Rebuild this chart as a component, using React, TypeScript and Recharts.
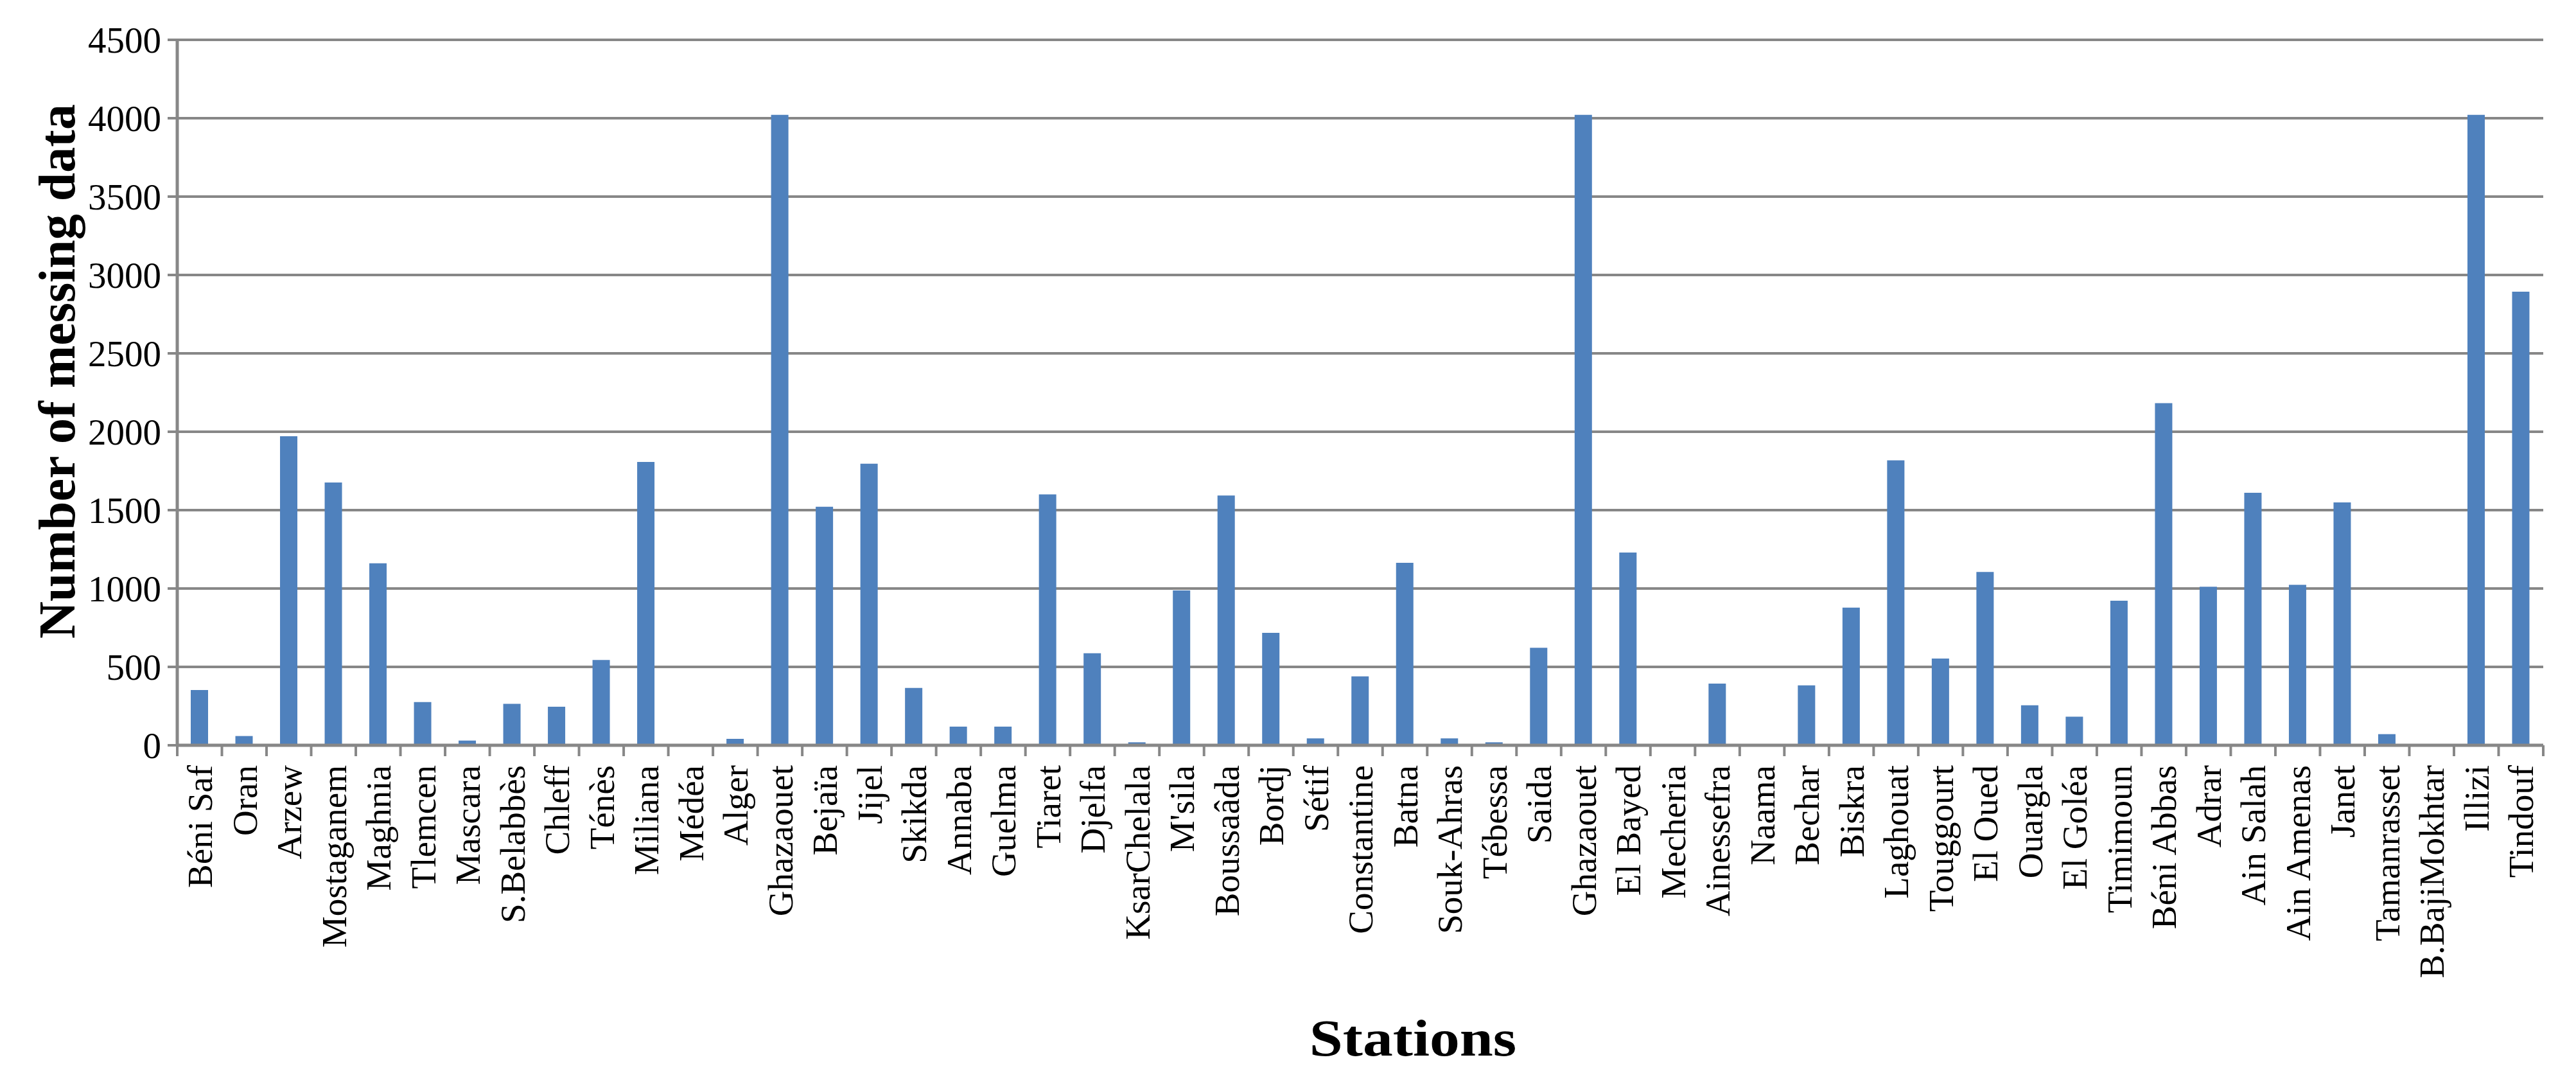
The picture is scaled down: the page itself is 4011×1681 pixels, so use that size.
import { BarChart, Bar, XAxis, YAxis, CartesianGrid } from "recharts";

const stations = [
  "Béni Saf", "Oran", "Arzew", "Mostaganem", "Maghnia", "Tlemcen", "Mascara", "S.Belabbès",
  "Chleff", "Ténès", "Miliana", "Médéa", "Alger", "Ghazaouet", "Bejaïa", "Jijel", "Skikda",
  "Annaba", "Guelma", "Tiaret", "Djelfa", "KsarChelala", "M'sila", "Boussaâda", "Bordj",
  "Sétif", "Constantine", "Batna", "Souk-Ahras", "Tébessa", "Saida", "Ghazaouet", "El Bayed",
  "Mecheria", "Ainessefra", "Naama", "Bechar", "Biskra", "Laghouat", "Touggourt", "El Oued",
  "Ouargla", "El Goléa", "Timimoun", "Béni Abbas", "Adrar", "Ain Salah", "Ain Amenas",
  "Janet", "Tamanrasset", "B.BajiMokhtar", "Illizi", "Tindouf",
];

const missing = [
  352, 59, 1971, 1676, 1161, 276, 30, 264,
  246, 544, 1807, 0, 41, 4022, 1522, 1796, 366,
  119, 119, 1600, 587, 19, 988, 1593, 717,
  44, 440, 1164, 44, 19, 622, 4022, 1229,
  0, 393, 0, 382, 878, 1818, 553, 1106,
  255, 182, 922, 2182, 1011, 1611, 1024,
  1549, 71, 0, 4022, 2893,
];

const yTicks = [0, 500, 1000, 1500, 2000, 2500, 3000, 3500, 4000, 4500];

const data = stations.map((name, i) => ({ name, missing: missing[i] }));

const W = 4011;
const H = 1681;
const LEFT = 276;
const RIGHT = 51;
const AXIS_Y = 1160;
const BAND = (W - LEFT - RIGHT) / stations.length;
const AXIS_GRAY = "#878787";
const FONT = "'Liberation Serif', 'Times New Roman', serif";

// station names rotated, with Excel-style tick marks between categories
function StationTick(props: any) {
  const { x, y, payload, index } = props;
  const half = payload?.offset || BAND / 2;
  const last = index === stations.length - 1;
  return (
    <g>
      <line x1={x - half} x2={x - half} y1={y} y2={y + 17} stroke={AXIS_GRAY} strokeWidth={4} />
      {last && <line x1={x + half} x2={x + half} y1={y} y2={y + 17} stroke={AXIS_GRAY} strokeWidth={4} />}
      <g transform={`translate(${x},${y}) rotate(-90)`}>
        <text x={-31} y={0} dy="0.35em" textAnchor="end" fontFamily={FONT} fontSize={55} fill="#000">
          {payload.value}
        </text>
      </g>
    </g>
  );
}

export default function App() {
  return (
    <div style={{ position: "absolute", left: 0, top: 0, background: "#fff" }}>
      <BarChart width={W} height={H} data={data} margin={{ top: 62, right: RIGHT, bottom: 0, left: 0 }}>
        <CartesianGrid vertical={false} stroke={AXIS_GRAY} strokeWidth={4} />
        <XAxis
          dataKey="name"
          interval={0}
          height={H - AXIS_Y}
          tickSize={0}
          tickMargin={0}
          tickLine={false}
          axisLine={{ stroke: AXIS_GRAY, strokeWidth: 5 }}
          tick={<StationTick />}
          label={{
            content: () => (
              <text
                x={2200}
                y={1643}
                textAnchor="middle"
                fontFamily={FONT}
                fontWeight="bold"
                fontSize={80}
                fill="#000"
                transform="translate(2200 1643) scale(1.17 1) translate(-2200 -1643)"
              >
                Stations
              </text>
            ),
          }}
        />
        <YAxis
          width={LEFT}
          domain={[0, 4500]}
          ticks={yTicks}
          interval={0}
          tickSize={15}
          tickMargin={10}
          tickLine={{ stroke: AXIS_GRAY, strokeWidth: 4 }}
          axisLine={{ stroke: AXIS_GRAY, strokeWidth: 5 }}
          tick={{ fontFamily: FONT, fontSize: 57, fill: "#000" }}
          label={{
            content: () => (
              <text
                x={88}
                y={578}
                dy="0.35em"
                textAnchor="middle"
                fontFamily={FONT}
                fontWeight="bold"
                fontSize={80}
                fill="#000"
                transform="rotate(-90 88 578)"
              >
                Number of messing data
              </text>
            ),
          }}
        />
        <Bar dataKey="missing" fill="#4f81bd" barSize={27} isAnimationActive={false} />
      </BarChart>
    </div>
  );
}
